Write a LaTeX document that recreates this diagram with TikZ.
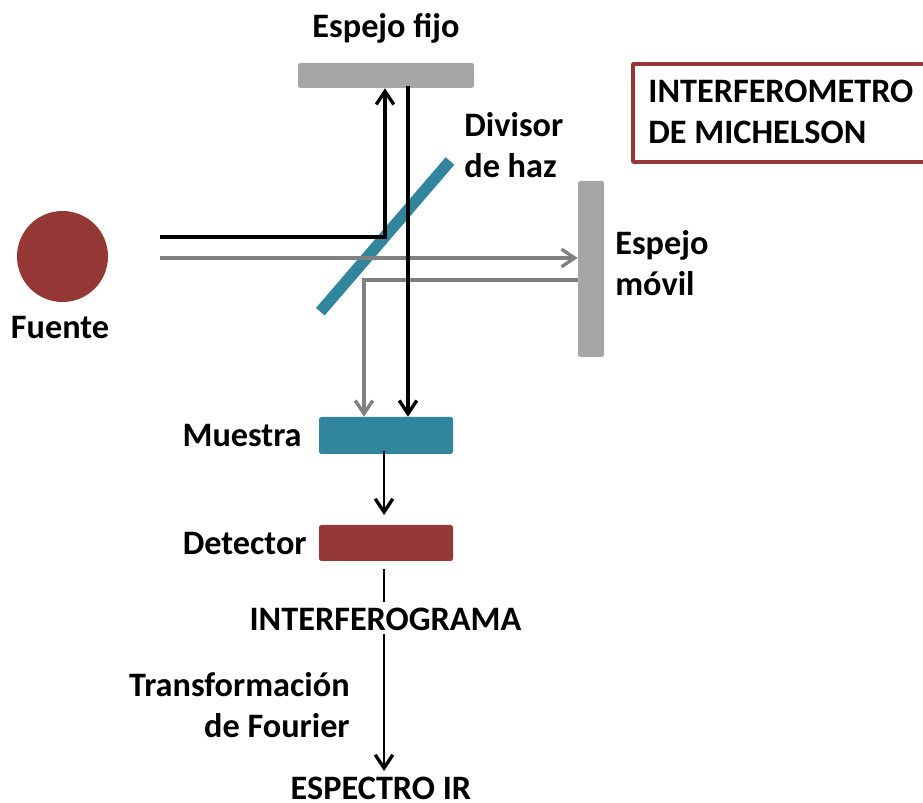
\documentclass[tikz,border=0pt]{standalone}
\usepackage{fontspec}
\setmainfont{Carlito}
\usetikzlibrary{arrows.meta}
\definecolor{rojo}{HTML}{953735}
\definecolor{azul}{HTML}{31859C}
\definecolor{gris}{HTML}{A6A6A6}
\definecolor{haz}{HTML}{808080}
\tikzset{
  >={Straight Barb[length=7.5pt,width=10pt,line width=1.9pt]},
  bloque/.style={rectangle,rounded corners=1pt,inner sep=0pt,minimum width=134*0.02cm,minimum height=37*0.02cm},
  espejo/.style={rectangle,rounded corners=1pt,inner sep=0pt,fill=gris},
  etiqueta/.style={inner sep=0pt,font=\fontsize{19.5}{23.3}\selectfont\bfseries,align=left},
  negro/.style={black,line width=2.2pt},
  griso/.style={haz,line width=2.2pt},
  fino/.style={black,line width=1.6pt}
}
\begin{document}
\begin{tikzpicture}[x=0.02cm,y=-0.02cm]
\useasboundingbox (0,0) rectangle (923,803);
\node[circle,fill=rojo,minimum size=91*0.02cm,inner sep=0pt] (fuente) at (62.5,256.5) {};
\node[espejo,minimum width=176*0.02cm,minimum height=25*0.02cm] (fijo) at (386,75.5) {};
\node[espejo,minimum width=26*0.02cm,minimum height=176*0.02cm] (movil) at (591,269) {};
\node[bloque,fill=azul] (muestra) at (386,435.5) {};
\node[bloque,fill=rojo,minimum height=36*0.02cm] (detector) at (386,543) {};
% divisor de haz
\coordinate (div1) at (320.3,311.7);
\coordinate (div2) at (450,161);
\draw[azul,line width=11.5*0.02cm] (div1) -- (div2);
% haces
\coordinate (neg0) at (160,237);
\coordinate (neg1) at (385,237);
\coordinate (neg2) at (408,86);
\coordinate (gri0) at (160,258);
\coordinate (gri1) at (364,280);
\draw[griso,->] (gri0) -- (gri0 -| movil.west);
\draw[griso,->] (movil.west |- gri1) -- (gri1) -- (gri1 |- muestra.north);
\draw[negro,->] (neg0) -- (neg1) -- (neg1 |- fijo.south);
\draw[negro,->] (neg2) -- (neg2 |- muestra.north);
% salida
\coordinate (sal0) at (384,451);
\coordinate (sal1) at (384,515);
\coordinate (sal2) at (384,569);
\coordinate (sal3) at (384,602);
\coordinate (sal4) at (384,634);
\coordinate (sal5) at (384,771);
\draw[fino,->] (sal0) -- (sal1);
\draw[fino] (sal2) -- (sal3);
\draw[fino,->] (sal4) -- (sal5);
% textos
\node[etiqueta,anchor=base] (tfijo) at (386,38) {Espejo fijo};
\node[etiqueta,anchor=west] (tdivisor) at (464,145) {Divisor\\de haz};
\node[etiqueta,anchor=west] (tmovil) at (615,263) {Espejo\\móvil};
\node[etiqueta,anchor=base] (tfuente) at (60,339) {Fuente};
\node[etiqueta,anchor=base east] (tmuestra) at (302,447) {Muestra};
\node[etiqueta,anchor=base east] (tdetector) at (307,555) {Detector};
\node[etiqueta,anchor=base] (tinterf) at (385.5,630) {INTERFEROGRAMA};
\node[etiqueta,align=right,anchor=east] (ttransf) at (350,705) {Transformación\\de Fourier};
\node[etiqueta,anchor=base] (tespectro) at (381,799) {ESPECTRO IR};
% recuadro
\draw[rojo,line width=3.6*0.02cm,line join=round] (923,64) -- (633,64) -- (633,162) -- (923,162);
\node[etiqueta,anchor=west] (ttitulo) at (648,112) {INTERFEROMETRO\\DE MICHELSON};
\end{tikzpicture}
\end{document}
